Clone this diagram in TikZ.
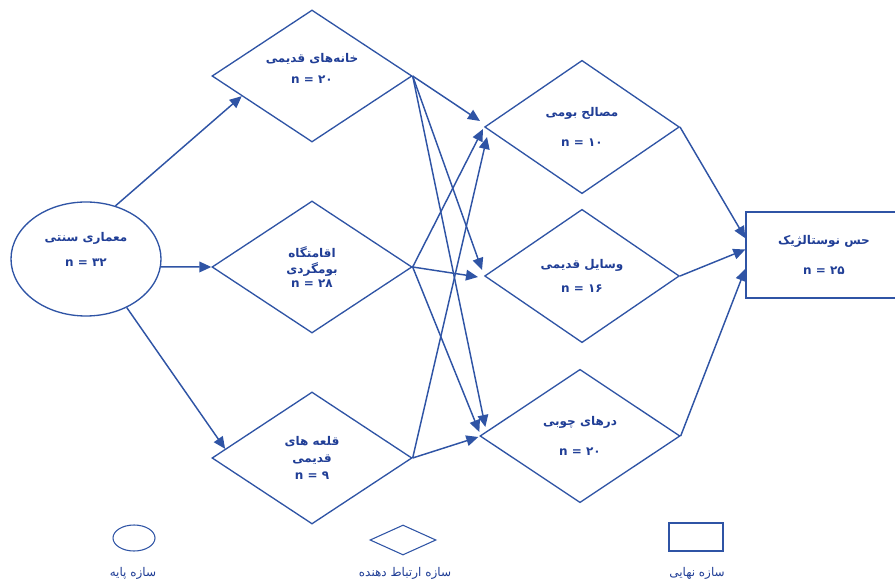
\documentclass[tikz,border=0pt]{standalone}
\usepackage{fontspec}
\setmainfont{DejaVu Sans}
\newfontfamily\arabicfont[Script=Arabic]{DejaVu Sans}
\TeXXeTstate=1
\usetikzlibrary{shapes.geometric,arrows.meta,calc}
\definecolor{lineblue}{RGB}{47,84,165}
\definecolor{textblue}{RGB}{32,62,150}
\newcommand{\pers}[1]{{\arabicfont\beginR #1\endR}}

\begin{document}
\begin{tikzpicture}[x=0.75pt, y=-0.75pt,
        >={Triangle[length=9pt,width=8pt]},
        flow/.style={->, draw=lineblue, line width=1.1pt},
        basebox/.style={ellipse, draw=lineblue, line width=1pt, text=textblue, inner sep=0pt, align=center, font=\bfseries\fontsize{9}{12}\selectfont},
        linkbox/.style={diamond, aspect=1.5, draw=lineblue, line width=1pt, text=textblue, inner sep=0pt, align=center, font=\bfseries\fontsize{9}{12}\selectfont},
        endbox/.style={rectangle, draw=lineblue, line width=1pt, text=textblue, inner sep=0pt, align=center, font=\bfseries\fontsize{9}{12}\selectfont},
        legendtext/.style={text=textblue, font=\fontsize{9}{11}\selectfont}]
        \useasboundingbox (0, 0) rectangle (895, 584);
        \clip (0, 0) rectangle (895, 584);
        % Nodes
        \node (traditional-arch) [basebox, minimum width=112.5pt, minimum height=85.5pt, text depth=14pt] at (86, 259) {\pers{معماری سنتی}\\[7pt] n = {\arabicfont ۳۲}};
        \node (old-houses) [linkbox, minimum width=150pt, minimum height=99pt, text depth=11pt] at (312, 76) {\pers{خانه‌های قدیمی}\\[4pt] n = {\arabicfont ۲۰}};
        \node (ecolodge) [linkbox, minimum width=150pt, minimum height=99pt] at (312, 267) {\pers{اقامتگاه}\\ \pers{بومگردی}\\[-2pt] n = {\arabicfont ۲۸}};
        \node (old-castles) [linkbox, minimum width=150pt, minimum height=99pt] at (312, 458) {\pers{قلعه های}\\[1pt] \pers{قدیمی}\\[1pt] n = {\arabicfont ۹}};
        \node (local-materials) [linkbox, minimum width=146pt, minimum height=100pt] at (582, 127) {\pers{مصالح بومی}\\[10pt] n = {\arabicfont ۱۰}};
        \node (old-tools) [linkbox, minimum width=146pt, minimum height=100pt] at (582, 276) {\pers{وسایل قدیمی}\\[6pt] n = {\arabicfont ۱۶}};
        \node (wooden-doors) [linkbox, minimum width=150pt, minimum height=100pt] at (580, 436) {\pers{درهای چوبی}\\[10pt] n = {\arabicfont ۲۰}};
        \node (nostalgia) [endbox, minimum width=117pt, minimum height=64.5pt] at (824, 255) {\pers{حس نوستالژیک}\\[11pt] n = {\arabicfont ۲۵}};
        % Legend
        \node (legend-base) [basebox, minimum width=31.5pt, minimum height=19.5pt, line width=0.8pt] at (134, 538) {};
        \node (legend-link) [linkbox, minimum width=49.5pt, minimum height=22.5pt, line width=0.8pt] at (403, 540) {};
        \node (legend-end) [endbox, minimum width=40.5pt, minimum height=21pt, line width=0.8pt] at (696, 537) {};
        \node (legend-base-text) [legendtext] at (133, 573) {\pers{سازه پایه}};
        \node (legend-link-text) [legendtext] at (405, 573) {\pers{سازه ارتباط دهنده}};
        \node (legend-end-text) [legendtext] at (697, 573) {\pers{سازه نهایی}};
        % Arrow
        \draw[flow] (traditional-arch.61) -- (old-houses.196);
        \draw[flow] (traditional-arch.-6) -- (ecolodge.west);
        \draw[flow] (traditional-arch.-50) -- (old-castles.174);
        \draw[flow] (old-houses.east) -- ([shift={(-4,-6)}]local-materials.west);
        \draw[flow] (old-houses.east) -- ([shift={(-2,-6)}]old-tools.west);
        \draw[flow] (old-houses.east) -- ([shift={(6,-9)}]wooden-doors.west);
        \draw[flow] (ecolodge.east) -- ([shift={(-1,2)}]local-materials.west);
        \draw[flow] (ecolodge.east) -- ([shift={(-6,1)}]old-tools.west);
        \draw[flow] (ecolodge.east) -- ([shift={(0,-4)}]wooden-doors.west);
        \draw[flow] (old-castles.east) -- ([shift={(3,10)}]local-materials.west);
        \draw[flow] (old-castles.east) -- ([shift={(-1,1)}]wooden-doors.west);
        \draw[flow] (local-materials.east) -- (nostalgia.168);
        \draw[flow] (old-tools.east) -- (nostalgia.176);
        \draw[flow] (wooden-doors.east) -- (nostalgia.190);
\end{tikzpicture}
\end{document}
